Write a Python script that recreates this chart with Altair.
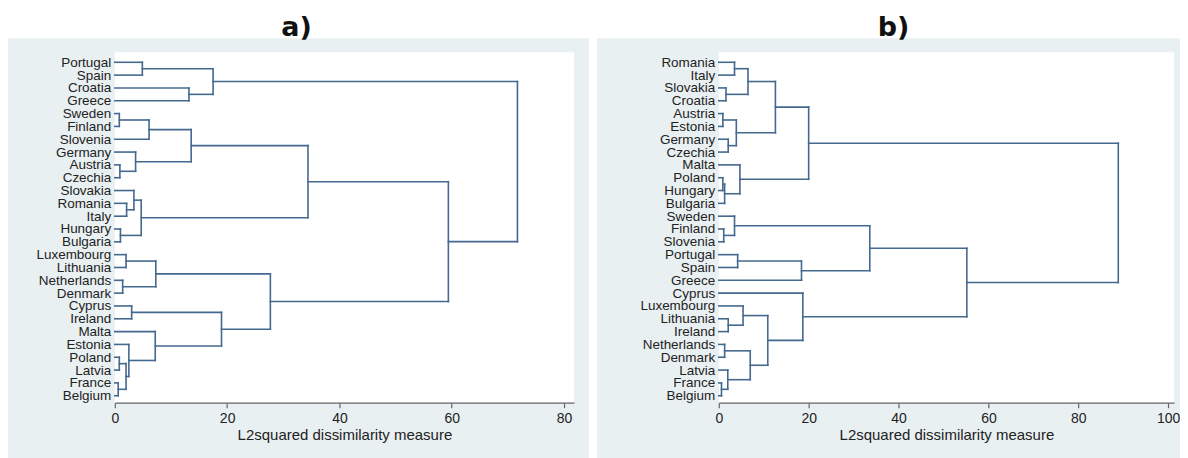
import altair as alt
import pandas as pd

# ---------------- data: panel a) ----------------
leaves_a = ["Portugal", "Spain", "Croatia", "Greece", "Sweden", "Finland", "Slovenia",
            "Germany", "Austria", "Czechia", "Slovakia", "Romania", "Italy", "Hungary",
            "Bulgaria", "Luxembourg", "Lithuania", "Netherlands", "Denmark", "Cyprus",
            "Ireland", "Malta", "Estonia", "Poland", "Latvia", "France", "Belgium"]
# merges: "#k" refers to the cluster formed by merge k
merge1_a = ["Portugal", "Croatia", "#0", "Sweden", "#3", "Austria", "Germany", "#4",
            "Romania", "Slovakia", "Hungary", "#9", "#7", "Luxembourg", "Netherlands",
            "#13", "Cyprus", "Poland", "France", "#17", "Estonia", "Malta", "#16",
            "#15", "#12", "#2"]
merge2_a = ["Spain", "Greece", "#1", "Finland", "Slovenia", "Czechia", "#5", "#6",
            "Italy", "#8", "Bulgaria", "#10", "#11", "Lithuania", "Denmark",
            "#14", "Ireland", "Latvia", "Belgium", "#18", "#19", "#20", "#21",
            "#22", "#23", "#24"]
height_a = [4.9, 13.2, 17.5, 0.8, 6.1, 0.9, 3.7, 13.6,
            2.1, 3.4, 1.0, 4.7, 34.4, 2.0, 1.4,
            7.3, 3.0, 0.8, 0.6, 2.0, 2.5, 7.2, 19.0,
            27.7, 59.4, 71.7]
ticks_a = [0, 20, 40, 60, 80]

# ---------------- data: panel b) ----------------
leaves_b = ["Romania", "Italy", "Slovakia", "Croatia", "Austria", "Estonia", "Germany",
            "Czechia", "Malta", "Poland", "Hungary", "Bulgaria", "Sweden", "Finland",
            "Slovenia", "Portugal", "Spain", "Greece", "Cyprus", "Luxembourg", "Lithuania",
            "Ireland", "Netherlands", "Denmark", "Latvia", "France", "Belgium"]
merge1_b = ["Romania", "Slovakia", "#0", "Austria", "Germany", "#3", "#2", "Poland",
            "#7", "Malta", "#6", "Finland", "Sweden", "Portugal", "#13", "#12",
            "Lithuania", "Luxembourg", "Netherlands", "France", "Latvia", "#18",
            "#17", "Cyprus", "#15", "#10"]
merge2_b = ["Italy", "Croatia", "#1", "Estonia", "Czechia", "#4", "#5", "Hungary",
            "Bulgaria", "#8", "#9", "Slovenia", "#11", "Spain", "Greece", "#14",
            "Ireland", "#16", "Denmark", "Belgium", "#19", "#20",
            "#21", "#22", "#23", "#24"]
height_b = [3.5, 1.6, 6.5, 0.9, 2.1, 3.9, 12.6, 0.9,
            1.3, 4.7, 20.0, 1.1, 3.5, 4.2, 18.4, 33.6,
            2.1, 5.4, 1.3, 0.6, 2.0, 7.0,
            10.9, 18.7, 55.2, 88.9]
ticks_b = [0, 20, 40, 60, 80, 100]

LINE = "#44698f"
PANEL_BG = "#e9f0f2"
H = 351


def segments(leaves, m1, m2, mh):
    pos = {name: (float(i), 0.0) for i, name in enumerate(leaves)}
    rows = []
    for k, (a, b, h) in enumerate(zip(m1, m2, mh)):
        ya, xa = pos[a]
        yb, xb = pos[b]
        rows.append(dict(x=xa, x2=h, y=ya, y2=ya))
        rows.append(dict(x=xb, x2=h, y=yb, y2=yb))
        rows.append(dict(x=h, x2=h, y=ya, y2=yb))
        pos[f"#{k}"] = ((ya + yb) / 2, h)
    return pd.DataFrame(rows)


def panel(leaves, m1, m2, mh, ticks, xmax, width, rect_x, rect_x2, title, title_x):
    df = segments(leaves, m1, m2, mh)
    one = pd.DataFrame({"k": [0]})
    label_arr = "[" + ",".join('"%s"' % s for s in leaves) + "]"
    yscale = alt.Scale(domain=[-0.778, 26.545], reverse=True, nice=False, zero=False)
    xscale = alt.Scale(domain=[0, xmax], nice=False, zero=False)

    bg = alt.Chart(one).mark_rect(color=PANEL_BG).encode(
        x=alt.value(rect_x), x2=alt.value(rect_x2),
        y=alt.value(-14), y2=alt.value(H + 56))
    white = alt.Chart(one).mark_rect(color="white").encode(
        x=alt.value(0), x2=alt.value(width),
        y=alt.value(0), y2=alt.value(H))
    lines = alt.Chart(df).mark_rule(color=LINE, strokeWidth=1.6, strokeCap="square").encode(
        x=alt.X("x:Q", scale=xscale,
                axis=alt.Axis(values=ticks, title="L2squared dissimilarity measure",
                              grid=False, domainColor="#666666", domainWidth=1.2,
                              tickColor="#666666", tickSize=5, tickWidth=1.2,
                              labelFont="Liberation Sans", labelFontSize=14,
                              labelColor="#222222", labelPadding=4, labelFlush=False,
                              titleFont="Liberation Sans", titleFontSize=15,
                              titleFontWeight="normal", titleColor="#222222",
                              titlePadding=2, zindex=1)),
        x2="x2:Q",
        y=alt.Y("y:Q", scale=yscale,
                axis=alt.Axis(values=list(range(len(leaves))),
                              labelExpr=label_arr + "[datum.value]",
                              title=None, grid=False, domain=False, ticks=False,
                              labelFont="Liberation Sans", labelFontSize=13.5,
                              labelColor="#222222", labelPadding=4,
                              labelOverlap=False, labelFlush=False, labelBound=False,
                              zindex=1)),
        y2="y2:Q",
    )
    ttl = alt.Chart(one).mark_text(text=title, font="DejaVu Sans", fontWeight="bold",
                                   fontSize=27, baseline="alphabetic", align="center",
                                   color="#111111").encode(
        x=alt.value(title_x), y=alt.value(-16))
    return alt.layer(bg, white, lines, ttl).properties(width=width, height=H)


pa = panel(leaves_a, merge1_a, merge2_a, height_a, ticks_a, 81.78, 460, -107, 475, "a)", 182)
pb = panel(leaves_b, merge1_b, merge2_b, height_b, ticks_b, 101.3, 456, -122, 462, "b)", 175)

chart = alt.hconcat(pa, pb, spacing=8).properties(
    padding={"left": 0, "top": 6, "right": 0, "bottom": 0},
    background="white",
).configure_view(stroke=None)

chart.save("out.html", embed_options={"renderer": "svg", "actions": False})
